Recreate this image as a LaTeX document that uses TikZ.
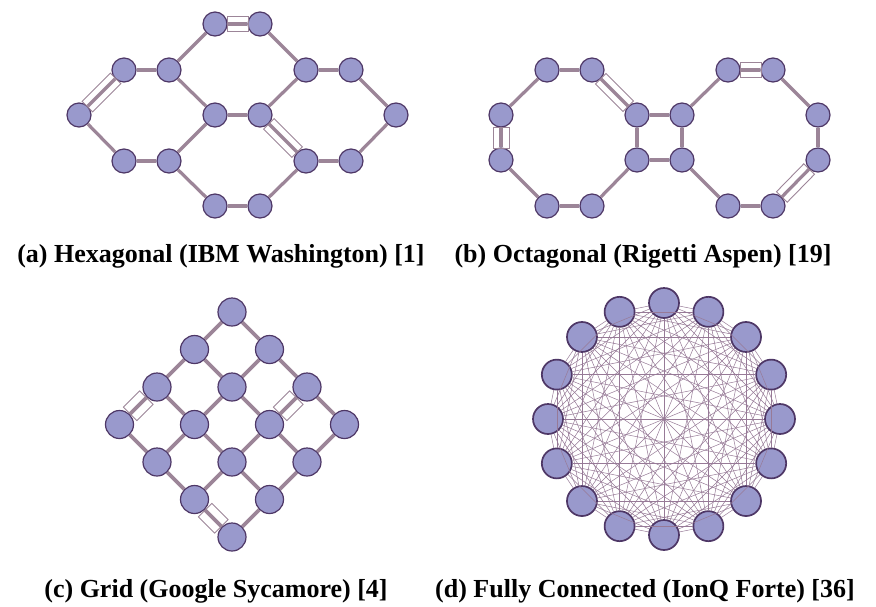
\documentclass[tikz,border=0pt]{standalone}
\usepackage{fontspec}
\setmainfont{Liberation Serif}
\definecolor{nodefill}{HTML}{9999CC}
\definecolor{nodeline}{HTML}{4E3766}
\definecolor{edgecol}{HTML}{9C8598}
\definecolor{fcedge}{HTML}{977A97}
\begin{document}
\begin{tikzpicture}[x=1pt,y=-1pt,
  qubit/.style={circle, draw=nodeline, fill=nodefill, line width=1.2pt, minimum size=24pt, inner sep=0pt},
  gqubit/.style={qubit, minimum size=28pt},
  fqubit/.style={qubit, minimum size=30pt, line width=1.7pt},
  link/.style={draw=edgecol, line width=3.2pt},
  glink/.style={draw=edgecol, line width=3.8pt},
  flink/.style={draw=fcedge, line width=0.5pt},
  coupler/.style={rectangle, draw=edgecol, line width=0.9pt, minimum height=15pt, inner sep=0pt, sloped},
  caption/.style={anchor=base, font=\bfseries\fontsize{26}{30}\selectfont}]
\useasboundingbox (0,0) rectangle (876,606);
\fill[white] (0,0) rectangle (876,606);

% ---------- (a) Hexagonal ----------
\foreach \n/\x/\y in {hA/215/24, hB/260/24, hC/124/70, hD/169/70, hE/306/70, hF/351/70,
  hG/79/115, hH/215/115, hI/260/115, hJ/396/115, hK/124/161, hL/169/161, hM/306/161, hN/351/161,
  hO/215/206, hP/260/206}
  \node[qubit] (\n) at (\x,\y) {};
\foreach \a/\b in {hA/hB, hB/hE, hE/hI, hI/hH, hH/hD, hD/hA, hC/hD, hC/hG, hG/hK, hK/hL, hL/hH,
  hE/hF, hF/hJ, hJ/hN, hN/hM, hM/hI, hL/hO, hO/hP, hP/hM}
  \draw[link] (\a) -- (\b);
\path (hA) -- (hB) node[coupler, midway, minimum width=21pt] (cab) {};
\path (hC) -- (hG) node[coupler, midway, minimum width=40pt] (ccg) {};
\path (hI) -- (hM) node[coupler, midway, minimum width=40pt] (cim) {};

% ---------- (b) Octagonal ----------
\foreach \n/\x/\y in {bA/547/70, bB/592/70, bC/501/115, bD/637/115, bE/501/160, bF/637/160,
  bG/547/206, bH/592/206, bI/682/115, bJ/682/160, bK/728/70, bL/773/70, bM/818/115, bN/818/160,
  bO/728/206, bP/773/206}
  \node[qubit] (\n) at (\x,\y) {};
\foreach \a/\b in {bA/bB, bB/bD, bD/bF, bF/bH, bH/bG, bG/bE, bE/bC, bC/bA, bD/bI, bF/bJ, bI/bJ,
  bI/bK, bK/bL, bL/bM, bM/bN, bN/bP, bP/bO, bO/bJ}
  \draw[link] (\a) -- (\b);
\path (bB) -- (bD) node[coupler, midway, minimum width=39pt] (cbd) {};
\path (bE) -- (bC) node[coupler, midway, minimum width=21pt, minimum height=16pt] (cec) {};
\path (bK) -- (bL) node[coupler, midway, minimum width=21pt] (ckl) {};
\path (bN) -- (bP) node[coupler, midway, minimum width=39pt] (cnp) {};

% ---------- (c) Grid ----------
\foreach \i in {0,...,3}
  \foreach \j in {0,...,3}
    \node[gqubit] (g\i\j) at ({232+37.5*(\i-\j)},{312+37.5*(\i+\j)}) {};
\foreach \i in {0,...,3}
  \foreach \j/\k in {0/1,1/2,2/3} {
    \draw[glink] (g\i\j) -- (g\i\k);
    \draw[glink] (g\j\i) -- (g\k\i);
  }
\path (g02) -- (g03) node[coupler, midway, minimum width=23pt, minimum height=19pt] (c0203) {};
\path (g20) -- (g21) node[coupler, midway, minimum width=23pt, minimum height=19pt] (c2021) {};
\path (g23) -- (g33) node[coupler, midway, minimum width=23pt, minimum height=19pt] (c2333) {};

% ---------- (d) Fully connected ----------
\foreach \k in {0,...,15}
  \node[fqubit] (d\k) at ({664+116*cos(90-22.5*\k)},{419-116*sin(90-22.5*\k)}) {};
\foreach \i in {0,...,14} {
  \pgfmathtruncatemacro\nxt{\i+1}
  \foreach \j in {\nxt,...,15}
    \draw[flink] (d\i) -- (d\j);
}

% ---------- captions ----------
\node[caption] (capa) at (221,262) {(a) Hexagonal (IBM Washington) [1]};
\node[caption] (capb) at (643,262) {(b) Octagonal (Rigetti Aspen) [19]};
\node[caption] (capc) at (216,597) {(c) Grid (Google Sycamore) [4]};
\node[caption] (capd) at (645,597) {(d) Fully Connected (IonQ Forte) [36]};
\end{tikzpicture}
\end{document}
